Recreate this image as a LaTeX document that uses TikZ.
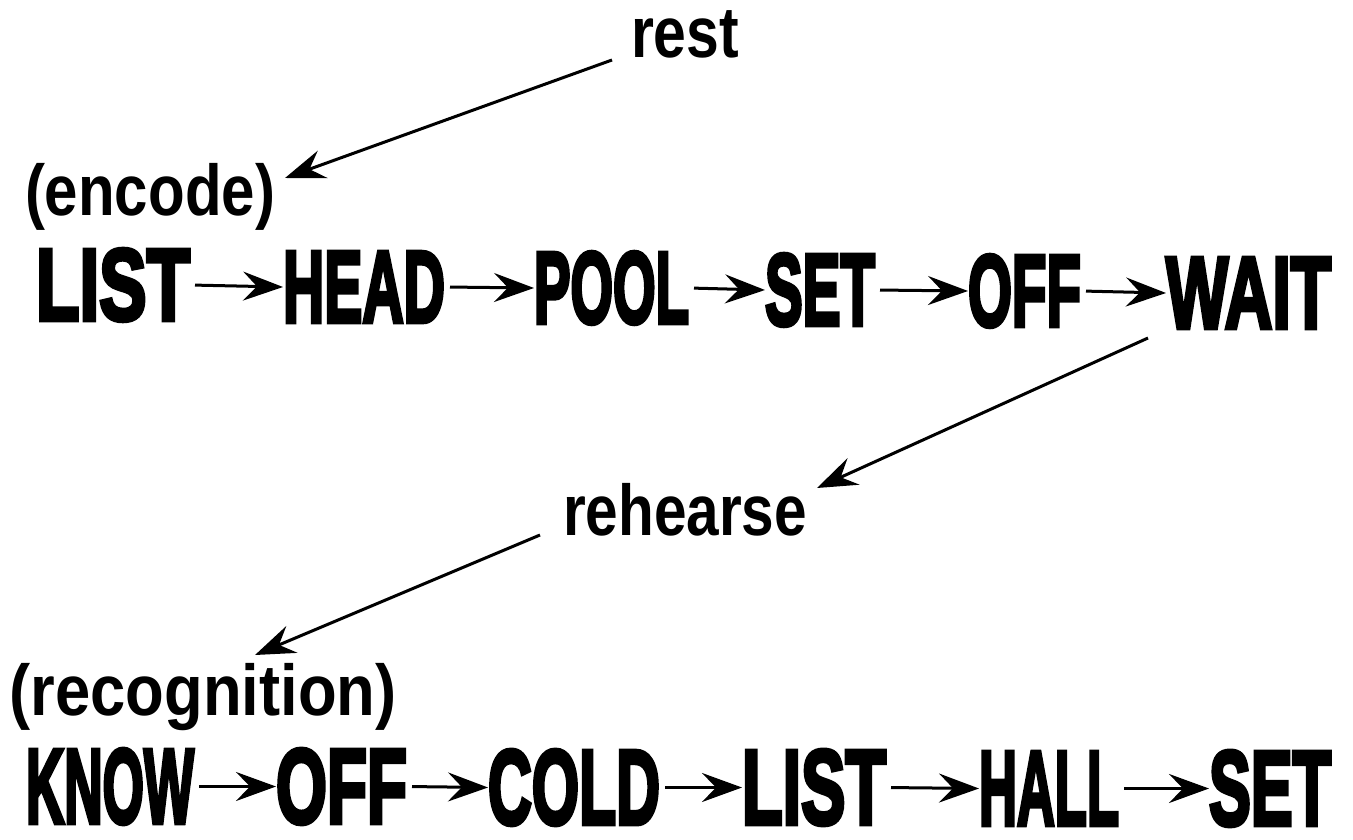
\documentclass[tikz,border=0pt]{standalone}
\usepackage{fontspec}
\usepackage{graphicx}
\usetikzlibrary{arrows.meta}
\newfontfamily\heavyfont[BoldFeatures={FakeBold=4.5}]{Liberation Sans}
\newfontfamily\labfont{Liberation Sans}
\newcommand\bigword[3]{\resizebox{#1pt}{#2pt}{\fontsize{100}{100}\selectfont\heavyfont\bfseries\smash{#3}\vphantom{H}}}
\newcommand\labword[2]{\resizebox{#1pt}{38pt}{\fontsize{70}{70}\selectfont\labfont\bfseries\smash{#2}\vphantom{x}}}
\tikzset{
  word/.style={inner sep=0pt, outer sep=0pt, anchor=south west},
  lab/.style={inner sep=0pt, outer sep=0pt, anchor=south},
  arr/.style={-{Stealth[length=40pt,width=29pt,inset=14pt]}, line width=3pt},
  rowarr/.style={arr, shorten <=5pt}
}
\begin{document}
\begin{tikzpicture}[x=1pt,y=-1pt]
\fill[white] (0,0) rectangle (1353,840);
\useasboundingbox (0,0) rectangle (1353,840);
% labels
\node[lab] (rest) at (685,58) {\labword{108}{rest}};
\node[lab] (enc) at (150,215) {\labword{250}{(encode)}};
\node[lab] (reh) at (685,535) {\labword{244}{rehearse}};
\node[lab] (rec) at (203,715) {\labword{387}{(recognition)}};
% top row
\node[word] (t1) at (36,320) {\bigword{154}{70}{LIST}};
\node[word] (t2) at (283,322) {\bigword{162}{70}{HEAD}};
\node[word] (t3) at (534,323) {\bigword{155}{70}{POOL}};
\node[word] (t4) at (765,325) {\bigword{110}{70}{SET}};
\node[word] (t5) at (968,326) {\bigword{113}{70}{OFF}};
\node[word] (t6) at (1166,328) {\bigword{165}{70}{WAIT}};
% bottom row
\node[word] (b1) at (26,823) {\bigword{168}{73}{KNOW}};
\node[word] (b2) at (276,823) {\bigword{131}{73}{OFF}};
\node[word] (b3) at (488,824) {\bigword{172}{73}{COLD}};
\node[word] (b4) at (742,824) {\bigword{144}{73}{LIST}};
\node[word] (b5) at (979,825) {\bigword{140}{73}{HALL}};
\node[word] (b6) at (1209,825) {\bigword{122}{73}{SET}};
% row arrows
\draw[rowarr] (t1.east) -- (t2.west);
\draw[rowarr] (t2.east) -- (t3.west);
\draw[rowarr] (t3.east) -- (t4.west);
\draw[rowarr] (t4.east) -- (t5.west);
\draw[rowarr] (t5.east) -- (t6.west);
\draw[rowarr] (b1.east) -- (b2.west);
\draw[rowarr] (b2.east) -- (b3.west);
\draw[rowarr] (b3.east) -- (b4.west);
\draw[rowarr] (b4.east) -- (b5.west);
\draw[rowarr] (b5.east) -- (b6.west);
% diagonal arrows
\coordinate (r1) at (612,60);
\coordinate (r2) at (285,178);
\coordinate (w1) at (1148,338);
\coordinate (w2) at (817,488);
\coordinate (h1) at (540,535);
\coordinate (h2) at (255,655);
\draw[arr] (r1) -- (r2);
\draw[arr] (w1) -- (w2);
\draw[arr] (h1) -- (h2);
\end{tikzpicture}
\end{document}
